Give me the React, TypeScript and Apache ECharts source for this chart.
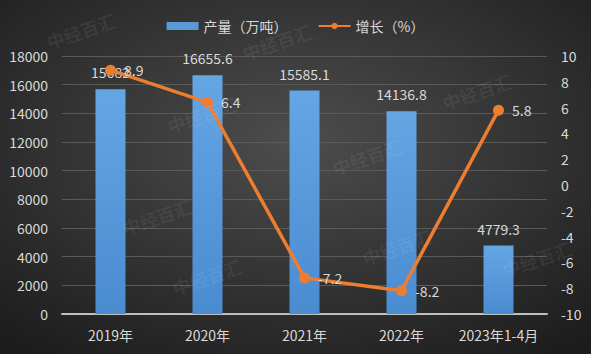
import React, { useEffect, useRef } from "react";
import * as echarts from "echarts";

const categories = ["2019年", "2020年", "2021年", "2022年", "2023年1-4月"];
const output = [15682, 16655.6, 15585.1, 14136.8, 4779.3];
const growth = [8.9, 6.4, -7.2, -8.2, 5.8];

const FONT = "'Noto Sans CJK SC', 'Noto Sans', sans-serif";
const TXT = "#d9d9d9";

export default function App() {
  const ref = useRef<HTMLDivElement>(null);
  useEffect(() => {
    document.body.style.margin = "0";
    const chart = echarts.init(ref.current!, undefined, { renderer: "svg" });
    const wm = (x: number, y: number) => ({
      type: "text",
      x,
      y,
      rotation: 0.33,
      silent: true,
      z: 100,
      style: {
        text: "中经百汇",
        fill: "rgba(255,255,255,0.07)",
        font: `bold 18px ${FONT}`,
      },
    });
    chart.setOption({
      animation: false,
      backgroundColor: {
        type: "radial",
        x: 0.5,
        y: 0.4,
        r: 0.75,
        colorStops: [
          { offset: 0, color: "#4d4d4d" },
          { offset: 1, color: "#1c1c1c" },
        ],
      },
      textStyle: { fontFamily: FONT },
      legend: {
        top: 14,
        left: "center",
        itemGap: 30,
        textStyle: { color: TXT, fontSize: 14, fontFamily: FONT },
        data: [
          { name: "产量（万吨）", icon: "rect", itemStyle: { color: "#5b9bd5" } },
          { name: "增长（%）" },
        ],
        itemWidth: 32,
        itemHeight: 8,
      },
      grid: { left: 62, right: 44, top: 56, bottom: 40 },
      xAxis: {
        type: "category",
        data: categories,
        axisLine: { lineStyle: { color: "#bfbfbf", width: 2 } },
        axisTick: { show: false },
        axisLabel: { color: TXT, fontSize: 14, margin: 14, fontFamily: FONT, interval: 0 },
      },
      yAxis: [
        {
          type: "value",
          min: 0,
          max: 18000,
          interval: 2000,
          axisLine: { show: false },
          axisTick: { show: false },
          axisLabel: {
            color: TXT,
            fontSize: 14,
            margin: 14,
            fontFamily: FONT,
            formatter: (v: number) => String(v),
          },
          splitLine: { lineStyle: { color: "#5a5a5a", width: 1 } },
        },
        {
          type: "value",
          min: -10,
          max: 10,
          interval: 2,
          axisLine: { show: false },
          axisTick: { show: false },
          axisLabel: { color: TXT, fontSize: 14, margin: 14, fontFamily: FONT },
          splitLine: { show: false },
        },
      ],
      series: [
        {
          name: "产量（万吨）",
          type: "bar",
          data: output,
          barWidth: 30,
          itemStyle: {
            color: {
              type: "linear",
              x: 0,
              y: 0,
              x2: 0,
              y2: 1,
              colorStops: [
                { offset: 0, color: "#64a5e4" },
                { offset: 1, color: "#4a8cd0" },
              ],
            },
          },
          label: {
            show: true,
            position: "top",
            distance: 10,
            color: TXT,
            fontSize: 14,
            fontFamily: FONT,
          },
        },
        {
          name: "增长（%）",
          type: "line",
          yAxisIndex: 1,
          data: growth,
          symbol: "circle",
          symbolSize: 11,
          lineStyle: { color: "#ed7d31", width: 3.5 },
          itemStyle: { color: "#ed7d31" },
          label: {
            show: true,
            position: "right",
            distance: 8,
            color: TXT,
            fontSize: 14,
            fontFamily: FONT,
          },
          z: 5,
        },
      ],
      graphic: [
        wm(44, 34),
        wm(240, 45),
        wm(120, 220),
        wm(165, 118),
        wm(330, 160),
        wm(170, 280),
        wm(440, 95),
        wm(500, 262),
        wm(360, 250),
      ],
    });
    return () => chart.dispose();
  }, []);
  return <div ref={ref} style={{ width: 591, height: 354 }} />;
}
